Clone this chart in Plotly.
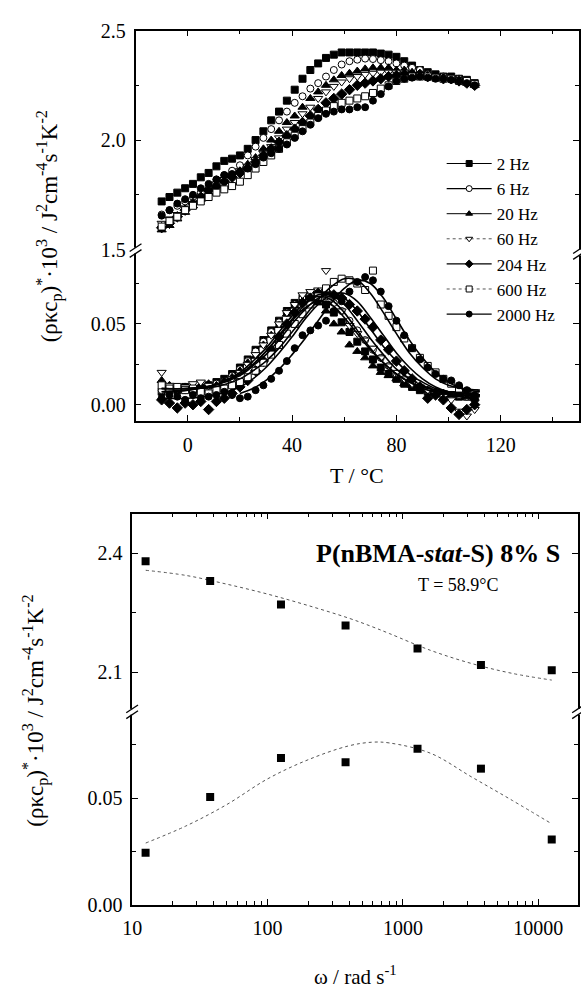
import plotly.graph_objects as go

W, H = 581, 992


def px(x):
    return x / W


def py(y):
    return 1 - y / H


# ---------------- data: top panel (temperature scans) ----------------
T = [-10, -7, -4, -1, 2, 5, 8, 11, 14, 17, 20, 23, 26, 29, 32, 35, 38, 41, 44, 47,
     50, 53, 56, 59, 62, 65, 68, 71, 74, 77, 80, 83, 86, 89, 92, 95, 98, 101, 104, 107, 110]

freq_labels = ["2 Hz", "6 Hz", "20 Hz", "60 Hz", "204 Hz", "600 Hz", "2000 Hz"]

# real part (upper sub-panel)
re_2 = [1.72, 1.74, 1.76, 1.78, 1.80, 1.83, 1.85, 1.88, 1.905, 1.915, 1.93, 1.96, 2.00, 2.04, 2.09, 2.13, 2.18, 2.23, 2.28, 2.32,
        2.35, 2.375, 2.39, 2.40, 2.40, 2.40, 2.40, 2.40, 2.395, 2.39, 2.38, 2.36, 2.34, 2.32, 2.31, 2.30, 2.29, 2.29, 2.28, 2.275, 2.26]
re_6 = [1.66, 1.68, 1.70, 1.72, 1.74, 1.76, 1.79, 1.82, 1.84, 1.86, 1.885, 1.93, 1.97, 2.01, 2.05, 2.09, 2.13, 2.17, 2.20, 2.235,
        2.26, 2.29, 2.32, 2.345, 2.36, 2.367, 2.372, 2.37, 2.365, 2.36, 2.35, 2.34, 2.33, 2.32, 2.30, 2.29, 2.29, 2.28, 2.28, 2.27, 2.25]
re_20 = [1.59, 1.61, 1.64, 1.67, 1.70, 1.73, 1.76, 1.79, 1.82, 1.84, 1.86, 1.89, 1.92, 1.96, 2.00, 2.04, 2.08, 2.11, 2.15, 2.19,
         2.22, 2.25, 2.275, 2.295, 2.305, 2.315, 2.325, 2.33, 2.33, 2.33, 2.32, 2.32, 2.31, 2.30, 2.29, 2.29, 2.28, 2.28, 2.27, 2.26, 2.25]
re_60 = [1.62, 1.64, 1.66, 1.69, 1.71, 1.74, 1.77, 1.80, 1.82, 1.84, 1.86, 1.88, 1.91, 1.94, 1.97, 2.01, 2.05, 2.08, 2.12, 2.15,
         2.19, 2.22, 2.245, 2.265, 2.28, 2.29, 2.30, 2.305, 2.31, 2.31, 2.31, 2.31, 2.30, 2.30, 2.29, 2.29, 2.28, 2.28, 2.27, 2.265, 2.25]
re_204 = [1.60, 1.62, 1.65, 1.68, 1.71, 1.74, 1.77, 1.79, 1.81, 1.83, 1.85, 1.87, 1.90, 1.93, 1.96, 1.99, 2.02, 2.05, 2.08, 2.11,
          2.14, 2.17, 2.19, 2.21, 2.23, 2.25, 2.26, 2.27, 2.28, 2.29, 2.295, 2.30, 2.30, 2.30, 2.29, 2.29, 2.28, 2.28, 2.27, 2.26, 2.25]
re_600 = [1.605, 1.63, 1.65, 1.68, 1.70, 1.72, 1.74, 1.76, 1.775, 1.79, 1.81, 1.84, 1.87, 1.90, 1.93, 1.96, 1.99, 2.02, 2.05, 2.08,
          2.11, 2.135, 2.155, 2.17, 2.18, 2.19, 2.20, 2.215, 2.235, 2.25, 2.27, 2.28, 2.29, 2.29, 2.29, 2.285, 2.28, 2.28, 2.27, 2.27, 2.255]
re_2000 = [1.655, 1.68, 1.71, 1.73, 1.75, 1.78, 1.80, 1.82, 1.84, 1.845, 1.855, 1.87, 1.89, 1.92, 1.94, 1.96, 1.98, 2.01, 2.04, 2.07,
           2.10, 2.12, 2.13, 2.14, 2.14, 2.15, 2.15, 2.18, 2.21, 2.245, 2.27, 2.28, 2.285, 2.29, 2.285, 2.28, 2.28, 2.275, 2.27, 2.26, 2.25]

# imaginary part (lower sub-panel)
im_2 = [0.008, 0.010, 0.009, 0.011, 0.009, 0.010, 0.012, 0.014, 0.016, 0.019, 0.023, 0.028, 0.034, 0.040, 0.046, 0.052, 0.058, 0.063, 0.066, 0.068,
        0.066, 0.062, 0.057, 0.051, 0.045, 0.039, 0.033, 0.028, 0.023, 0.019, 0.016, 0.013, 0.011, 0.009, 0.008, 0.007, 0.006, 0.006, 0.005, 0.005, 0.004]
im_6 = [0.009, 0.008, 0.010, 0.009, 0.010, 0.011, 0.012, 0.013, 0.015, 0.018, 0.022, 0.027, 0.033, 0.039, 0.045, 0.051, 0.057, 0.062, 0.066, 0.068,
        0.069, 0.067, 0.063, 0.058, 0.052, 0.046, 0.040, 0.034, 0.029, 0.024, 0.019, 0.016, 0.013, 0.011, 0.009, 0.008, 0.007, 0.006, 0.006, 0.005, 0.005]
im_20 = [0.015, 0.012, 0.010, 0.011, 0.010, 0.012, 0.013, 0.012, 0.015, 0.017, 0.021, 0.026, 0.030, 0.037, 0.043, 0.049, 0.056, 0.061, 0.064, 0.066,
         0.063, 0.058, 0.050, 0.045, 0.037, 0.033, 0.029, 0.024, 0.020, 0.018, 0.016, 0.013, 0.012, 0.010, 0.009, 0.008, 0.007, 0.006, 0.006, 0.005, 0.004]
im_60 = [0.020, 0.012, 0.010, 0.011, 0.013, 0.014, 0.012, 0.011, 0.013, 0.016, 0.020, 0.025, 0.031, 0.037, 0.043, 0.050, 0.057, 0.062, 0.068, 0.070,
         0.071, 0.083, 0.066, 0.058, 0.049, 0.044, 0.040, 0.035, 0.029, 0.024, 0.020, 0.016, 0.013, 0.011, 0.009, 0.007, 0.005, 0.003, -0.004, -0.007, -0.003]
im_204 = [0.003, 0.001, -0.002, 0.001, 0.000, 0.002, -0.003, 0.002, 0.004, 0.007, 0.011, 0.015, 0.021, 0.027, 0.034, 0.042, 0.050, 0.057, 0.063, 0.066,
          0.069, 0.070, 0.068, 0.066, 0.062, 0.058, 0.053, 0.048, 0.040, 0.034, 0.027, 0.021, 0.016, 0.011, 0.004, 0.006, 0.003, -0.002, -0.006, -0.003, 0.000]
im_600 = [0.012, 0.010, 0.011, 0.009, 0.010, 0.008, 0.007, 0.009, 0.010, 0.012, 0.014, 0.017, 0.021, 0.026, 0.031, 0.037, 0.044, 0.050, 0.056, 0.062,
          0.067, 0.072, 0.076, 0.078, 0.077, 0.075, 0.071, 0.083, 0.062, 0.055, 0.048, 0.041, 0.035, 0.029, 0.024, 0.020, 0.016, 0.013, 0.010, 0.008, 0.007]
im_2000 = [0.004, 0.006, 0.005, 0.003, 0.006, 0.004, 0.005, 0.006, 0.008, 0.006, 0.004, 0.005, 0.009, 0.012, 0.016, 0.021, 0.027, 0.035, 0.043, 0.046,
           0.049, 0.052, 0.058, 0.064, 0.070, 0.076, 0.079, 0.077, 0.070, 0.061, 0.052, 0.043, 0.035, 0.028, 0.023, 0.019, 0.016, 0.015, 0.012, 0.009, 0.006]

# fitted curves (lower sub-panel)
T_fit = [-10, 0, 10, 20, 25, 30, 35, 40, 45, 50, 55, 60, 65, 70, 75, 80, 85, 90, 95, 100, 105, 112]
fit_2 = [0.008, 0.009, 0.012, 0.020, 0.027, 0.035, 0.045, 0.055, 0.063, 0.067, 0.065, 0.057, 0.046, 0.035, 0.026, 0.019, 0.014, 0.010, 0.008, 0.007, 0.006, 0.005]
fit_6 = [0.008, 0.009, 0.012, 0.019, 0.025, 0.033, 0.043, 0.053, 0.062, 0.068, 0.068, 0.062, 0.052, 0.041, 0.031, 0.022, 0.016, 0.012, 0.009, 0.008, 0.007, 0.006]
fit_20 = [0.010, 0.010, 0.012, 0.019, 0.025, 0.033, 0.042, 0.052, 0.060, 0.064, 0.062, 0.054, 0.044, 0.034, 0.026, 0.019, 0.014, 0.011, 0.009, 0.008, 0.007, 0.006]
fit_60 = [0.010, 0.010, 0.012, 0.018, 0.024, 0.031, 0.040, 0.050, 0.059, 0.066, 0.069, 0.066, 0.058, 0.047, 0.036, 0.027, 0.019, 0.014, 0.010, 0.008, 0.007, 0.006]
fit_204 = [0.004, 0.004, 0.006, 0.011, 0.016, 0.023, 0.032, 0.042, 0.053, 0.062, 0.068, 0.069, 0.064, 0.054, 0.043, 0.032, 0.023, 0.016, 0.011, 0.008, 0.007, 0.006]
fit_600 = [0.010, 0.010, 0.011, 0.016, 0.021, 0.027, 0.035, 0.045, 0.055, 0.065, 0.073, 0.078, 0.077, 0.069, 0.057, 0.044, 0.032, 0.023, 0.016, 0.012, 0.010, 0.009]
fit_2000 = [None, None, None, 0.007, 0.010, 0.015, 0.022, 0.031, 0.041, 0.052, 0.063, 0.072, 0.077, 0.075, 0.066, 0.053, 0.040, 0.029, 0.020, 0.014, 0.010, 0.008]

# ---------------- data: bottom panel (frequency dependence) ----------------
omega = [12.57, 37.7, 125.7, 377.0, 1282.0, 3770.0, 12566.0]
re_omega = [2.380, 2.330, 2.271, 2.218, 2.160, 2.118, 2.105]
im_omega = [0.0245, 0.0505, 0.0688, 0.0668, 0.0731, 0.0638, 0.0306]

omega_fit = [12.6, 25, 50, 100, 200, 400, 600, 800, 1600, 3200, 6400, 12566]
re_omega_fit = [2.357, 2.344, 2.322, 2.297, 2.268, 2.236, 2.214, 2.197, 2.155, 2.122, 2.097, 2.080]
im_omega_fit = [0.029, 0.037, 0.047, 0.059, 0.068, 0.0745, 0.0762, 0.0758, 0.071, 0.060, 0.049, 0.038]

re_series = [re_2, re_6, re_20, re_60, re_204, re_600, re_2000]
im_series = [im_2, im_6, im_20, im_60, im_204, im_600, im_2000]
fit_series = [fit_2, fit_6, fit_20, fit_60, fit_204, fit_600, fit_2000]

# ---------------- styles ----------------
FONT = "Liberation Serif"
marker_styles = [
    dict(symbol="square", size=7, color="black", line=dict(color="black", width=1)),
    dict(symbol="circle", size=7, color="white", line=dict(color="black", width=1)),
    dict(symbol="triangle-up", size=8, color="black", line=dict(color="black", width=1)),
    dict(symbol="triangle-down", size=8, color="white", line=dict(color="black", width=1)),
    dict(symbol="diamond", size=8, color="black", line=dict(color="black", width=1)),
    dict(symbol="square", size=7, color="white", line=dict(color="black", width=1)),
    dict(symbol="circle", size=7, color="black", line=dict(color="black", width=1)),
]
legend_lines = [
    dict(color="black", width=1.2, dash="solid"),
    dict(color="black", width=1.2, dash="solid"),
    dict(color="black", width=1.0, dash="solid"),
    dict(color="#555", width=1.0, dash="dot"),
    dict(color="black", width=1.2, dash="solid"),
    dict(color="#555", width=1.0, dash="dot"),
    dict(color="black", width=1.2, dash="solid"),
]

fig = go.Figure()

for i, name in enumerate(freq_labels):
    fig.add_trace(go.Scatter(x=T, y=re_series[i], mode="markers", marker=marker_styles[i],
                             xaxis="x3", yaxis="y", showlegend=False))
for i, name in enumerate(freq_labels):
    fig.add_trace(go.Scatter(x=T, y=im_series[i], mode="markers", marker=marker_styles[i],
                             xaxis="x", yaxis="y2", showlegend=False))
for i, name in enumerate(freq_labels):
    fig.add_trace(go.Scatter(x=T_fit, y=fit_series[i], mode="lines",
                             line=dict(color="black", width=1.6, shape="spline"),
                             xaxis="x", yaxis="y2", showlegend=False))
for i, name in enumerate(freq_labels):
    ms = dict(marker_styles[i])
    ms["size"] = 6
    fig.add_trace(go.Scatter(x=[None], y=[None], mode="lines+markers", name=name,
                             marker=ms, line=legend_lines[i], xaxis="x", yaxis="y2"))

# bottom panel
fig.add_trace(go.Scatter(x=omega_fit, y=re_omega_fit, mode="lines",
                         line=dict(color="#555", width=1, dash="dot", shape="spline"),
                         xaxis="x4", yaxis="y3", showlegend=False))
fig.add_trace(go.Scatter(x=omega, y=re_omega, mode="markers",
                         marker=dict(symbol="square", size=8, color="black"),
                         xaxis="x4", yaxis="y3", showlegend=False))
fig.add_trace(go.Scatter(x=omega_fit, y=im_omega_fit, mode="lines",
                         line=dict(color="#555", width=1, dash="dot", shape="spline"),
                         xaxis="x2", yaxis="y4", showlegend=False))
fig.add_trace(go.Scatter(x=omega, y=im_omega, mode="markers",
                         marker=dict(symbol="square", size=8, color="black"),
                         xaxis="x2", yaxis="y4", showlegend=False))

axis_common = dict(showline=True, linecolor="black", linewidth=1.5, showgrid=False, zeroline=False,
                   ticks="inside", ticklen=6, tickwidth=1.2, tickcolor="black",
                   tickfont=dict(family=FONT, size=20, color="black"))

top_x_dom = [px(128), px(580)]
bot_x_dom = [px(124.5), px(579)]

minor_T = dict(tickmode="array", tickvals=[20, 60, 100, 140], ticks="inside", ticklen=4,
               tickcolor="black", tickwidth=1.2)
minor_log = dict(tickmode="array",
                 tickvals=[20, 30, 40, 50, 60, 70, 80, 90, 200, 300, 400, 500, 600, 700, 800, 900,
                           2000, 3000, 4000, 5000, 6000, 7000, 8000, 9000],
                 ticks="inside", ticklen=4, tickcolor="black", tickwidth=1.2)

fig.update_layout(
    width=W, height=H, margin=dict(l=0, r=0, t=0, b=0),
    paper_bgcolor="white", plot_bgcolor="white",
    font=dict(family=FONT, color="black"),
    xaxis=dict(axis_common, domain=top_x_dom, range=[-20, 150], anchor="y2",
               tickmode="array", tickvals=[0, 40, 80, 120], minor=minor_T, ticklabelstandoff=6),
    xaxis3=dict(axis_common, domain=top_x_dom, range=[-20, 150], anchor="y", side="top",
                tickmode="array", tickvals=[0, 40, 80, 120], minor=minor_T, showticklabels=False),
    yaxis=dict(axis_common, domain=[py(244), py(20)], range=[1.5, 2.5], anchor="x3", mirror="ticks",
               tickmode="array", tickvals=[1.5, 2.0, 2.5], ticktext=["1.5", "2.0", "2.5"],
               minor=dict(tickmode="array", tickvals=[1.75, 2.25], ticks="inside", ticklen=4,
                          tickcolor="black", tickwidth=1.2), ticklabelstandoff=4),
    yaxis2=dict(axis_common, domain=[py(419), py(244)], range=[-0.0099, 0.096], anchor="x", mirror="ticks",
                tickmode="array", tickvals=[0.0, 0.05], ticktext=["0.00", "0.05"],
                minor=dict(tickmode="array", tickvals=[0.025, 0.075], ticks="inside", ticklen=4,
                           tickcolor="black", tickwidth=1.2), ticklabelstandoff=4),
    xaxis2=dict(axis_common, domain=bot_x_dom, type="log", range=[1, 4.2935], anchor="y4",
                tickmode="array", tickvals=[10, 100, 1000, 10000], ticktext=["10", "100", "1000", "10000"],
                minor=minor_log, ticklabelstandoff=4),
    xaxis4=dict(axis_common, domain=bot_x_dom, type="log", range=[1, 4.2935], anchor="y3", side="top",
                tickmode="array", tickvals=[10, 100, 1000, 10000], minor=minor_log, showticklabels=False),
    yaxis3=dict(axis_common, domain=[py(716.7), py(514)], range=[2.0, 2.5], anchor="x4", mirror="ticks",
                tickmode="array", tickvals=[2.1, 2.4], ticktext=["2.1", "2.4"],
                minor=dict(tickmode="array", tickvals=[2.25], ticks="inside", ticklen=4,
                           tickcolor="black", tickwidth=1.2), ticklabelstandoff=4),
    yaxis4=dict(axis_common, domain=[py(914.3), py(716.7)], range=[0, 0.0904], anchor="x2", mirror="ticks",
                tickmode="array", tickvals=[0.0, 0.05], ticktext=["0.00", "0.05"],
                minor=dict(tickmode="array", tickvals=[0.025, 0.075], ticks="inside", ticklen=4,
                           tickcolor="black", tickwidth=1.2), ticklabelstandoff=4),
    legend=dict(x=px(440), y=py(138), xanchor="left", yanchor="top", bgcolor="rgba(0,0,0,0)",
                font=dict(family=FONT, size=17, color="black"), tracegroupgap=0, itemwidth=45),
)

ylab = "(ρκc<sub>p</sub>)<sup>*</sup>·10<sup>3</sup> / J<sup>2</sup>cm<sup>-4</sup>s<sup>-1</sup>K<sup>-2</sup>"
annotations = [
    dict(text=ylab, x=px(40), y=py(220), textangle=-90, font=dict(family=FONT, size=23)),
    dict(text=ylab, x=px(26), y=py(716), textangle=-90, font=dict(family=FONT, size=23)),
    dict(text="T / °C", x=px(354), y=py(475), font=dict(family=FONT, size=22)),
    dict(text="ω / rad s<sup>-1</sup>", x=px(352), y=py(986), font=dict(family=FONT, size=21)),
    dict(text="<b>P(nBMA-<i>stat</i>-S) 8% S</b>", x=px(563), y=py(555), xanchor="right",
         font=dict(family=FONT, size=26)),
    dict(text="T = 58.9°C", x=px(457), y=py(587), font=dict(family=FONT, size=18)),
]
for a in annotations:
    a.update(xref="paper", yref="paper", showarrow=False)
    a.setdefault("xanchor", "center")
    a.setdefault("yanchor", "middle")
fig.update_layout(annotations=annotations)

# axis-break marks
shapes = []
for (bx, by) in [(128, 245), (580, 247), (124.5, 716.7), (579, 716.7)]:
    shapes.append(dict(type="rect", xref="paper", yref="paper", x0=px(bx - 3), x1=px(bx + 3),
                       y0=py(by + 3), y1=py(by - 3), fillcolor="white", line=dict(width=0)))
    for off in (-3, 3):
        shapes.append(dict(type="line", xref="paper", yref="paper",
                           x0=px(bx - 6), y0=py(by + off + 4), x1=px(bx + 6), y1=py(by + off - 4),
                           line=dict(color="black", width=1.3)))
fig.update_layout(shapes=shapes)

fig.write_html("out.html")
